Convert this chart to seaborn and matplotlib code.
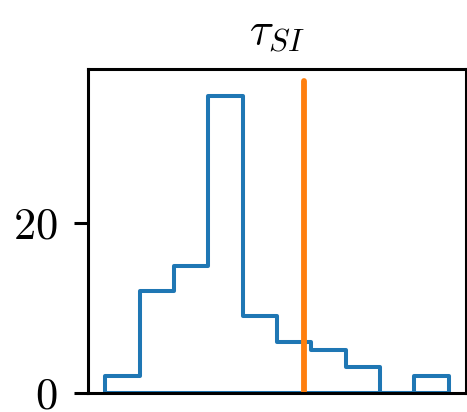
"""Step histogram of tau_SI with a reference value marked."""
import matplotlib

matplotlib.use("Agg")
import matplotlib.pyplot as plt
import seaborn as sns

# bin edges (arbitrary units) and counts
bin_edges = [0, 1, 2, 3, 4, 5, 6, 7, 8, 9, 10]
bin_counts = [2, 12, 15, 35, 9, 6, 5, 3, 0, 2]
bin_centers = [(a + b) / 2 for a, b in zip(bin_edges[:-1], bin_edges[1:])]
ref_value = 5.8
ref_top = 36.8
title = r"$\tau_{SI}$"

sns.set_style("ticks")
plt.rcParams["font.family"] = ["cmr10", "DejaVu Serif"]
plt.rcParams["mathtext.fontset"] = "cm"
plt.rcParams["axes.formatter.use_mathtext"] = True
plt.rcParams["text.color"] = "black"

fig = plt.figure(figsize=(4.67, 4.12), dpi=100)
ax = fig.add_axes([88 / 467, 1 - 392.5 / 412, 378 / 467, 324 / 412])

sns.histplot(
    x=bin_centers,
    weights=bin_counts,
    bins=bin_edges,
    element="step",
    fill=True,
    color="#1f77b4",
    facecolor="none",
    linewidth=2.9,
    ax=ax,
)
ax.plot([ref_value, ref_value], [0, ref_top], color="#ff7f0e", linewidth=4.2)

ax.set_xlim(-0.5, 10.5)
ax.set_ylim(0, 38.3)
ax.set_xticks([])
ax.set_yticks([0, 20])
ax.set_xlabel("")
ax.set_ylabel("")
ax.tick_params(axis="y", labelsize=32, length=10, width=2.2, pad=12,
               color="black", labelcolor="black")
for spine in ax.spines.values():
    spine.set_linewidth(2.2)
    spine.set_edgecolor("black")
ax.set_title(title, fontsize=32, pad=18, color="black")

fig.savefig("out.png", dpi=100)
